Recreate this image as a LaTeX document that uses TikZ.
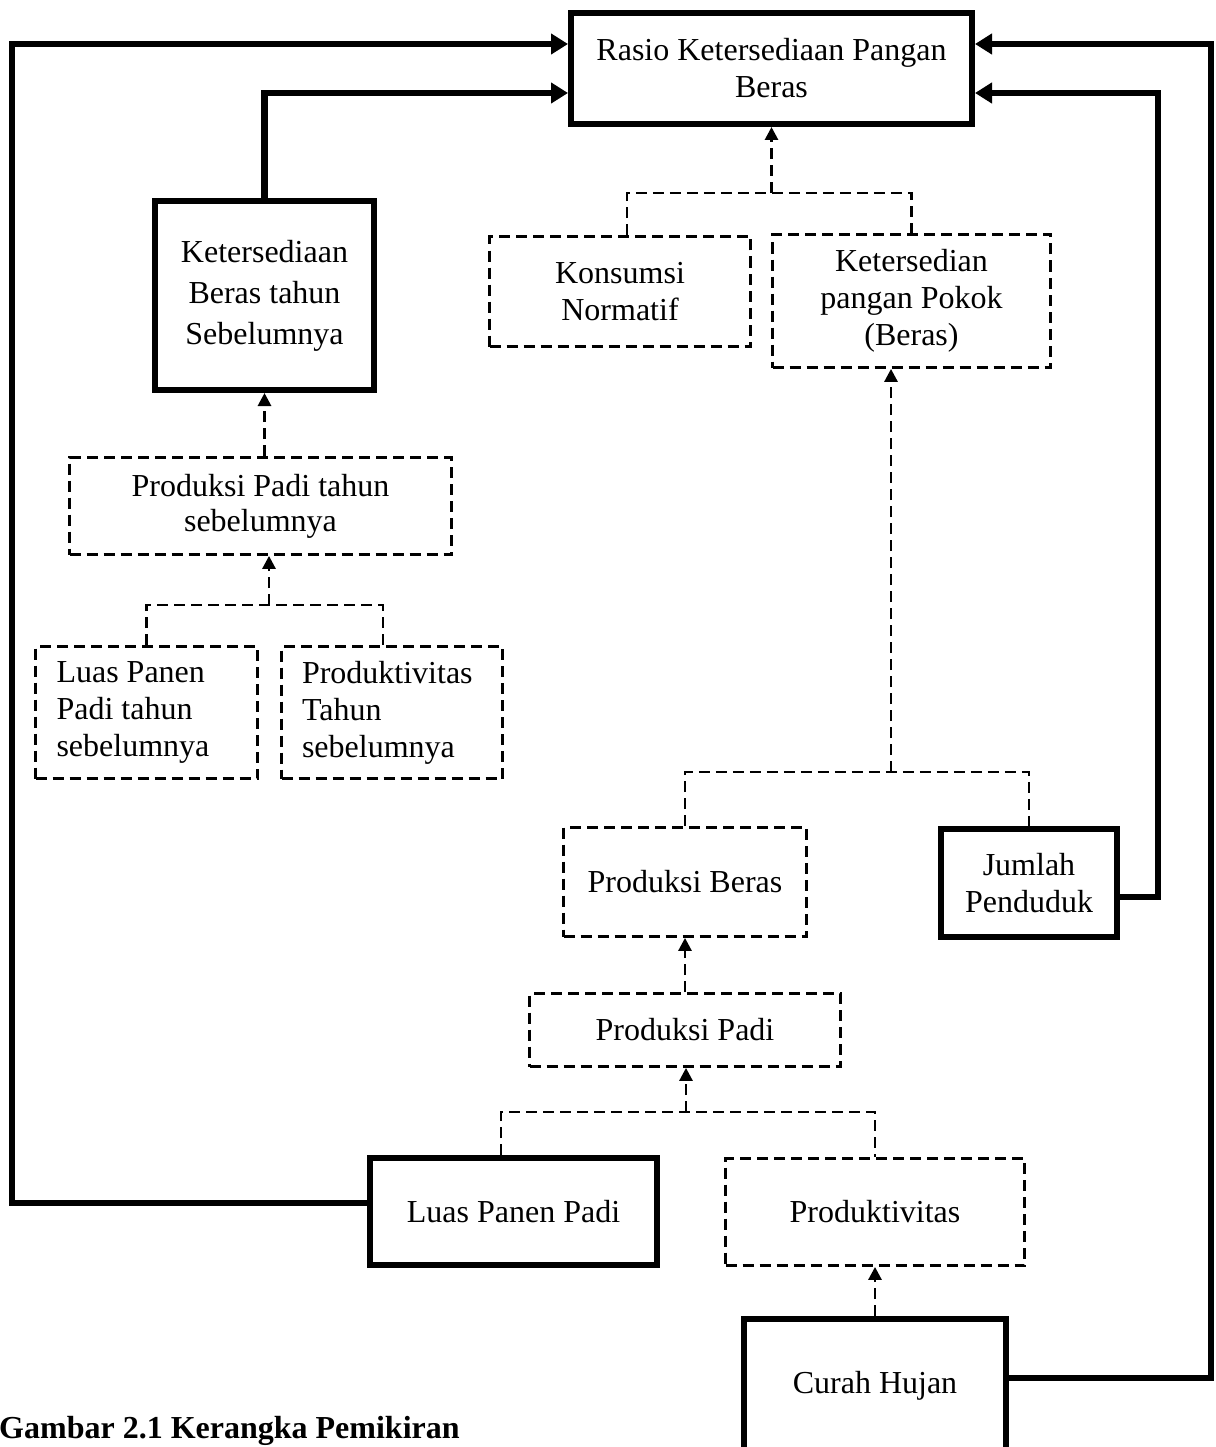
\documentclass[tikz,border=0pt]{standalone}
\usepackage{fontspec}
\setmainfont{Liberation Serif}
\usetikzlibrary{arrows.meta}
\begin{document}
\begin{tikzpicture}[x=1pt,y=-1pt,
  every node/.style={font=\fontsize{32}{37}\selectfont, align=center, inner sep=0pt},
  sbox/.style={draw, line width=6pt},
  dbox/.style={draw, line width=2.8pt, dash pattern=on 11pt off 6pt},
  conn/.style={line width=6.5pt, -{Triangle[length=17pt,width=20pt]}},
  dconn/.style={line width=2.8pt, dash pattern=on 11pt off 6pt},
  darr/.style={dconn, -{Triangle[length=13pt,width=13pt]}}
]
\useasboundingbox (0,0) rectangle (1215,1447);
\clip (0,0) rectangle (1215,1447);

% nodes
\node[sbox, minimum width=401pt, minimum height=111pt] (rasio) at (771.5,68.5) {Rasio Ketersediaan Pangan\\Beras};
\node[sbox, minimum width=219pt, minimum height=189pt, font=\fontsize{32}{41}\selectfont] (keb) at (264.5,295.5) {Ketersediaan\\Beras tahun\\Sebelumnya};
\node[dbox, minimum width=261pt, minimum height=110pt] (kons) at (620,291.5) {Konsumsi\\Normatif};
\node[dbox, minimum width=278pt, minimum height=133pt] (ketp) at (911.5,301) {Ketersedian\\pangan Pokok\\(Beras)};
\node[dbox, minimum width=382pt, minimum height=97pt, font=\fontsize{32}{35}\selectfont] (ppt) at (260.5,506) {Produksi Padi tahun\\sebelumnya};
\node[dbox, minimum width=222pt, minimum height=132pt, align=flush left, text width=180pt, inner xsep=21pt] (lpt) at (146.5,712.5) {Luas Panen\\Padi tahun\\sebelumnya};
\node[dbox, minimum width=221pt, minimum height=132pt, align=flush left, text width=180pt, inner xsep=20.5pt] (prt) at (392,712.5) {Produktivitas\\Tahun\\sebelumnya};
\node[dbox, minimum width=243pt, minimum height=109pt] (pb) at (685,882) {Produksi Beras};
\node[sbox, minimum width=176pt, minimum height=108pt] (jp) at (1029,883) {Jumlah\\Penduduk};
\node[dbox, minimum width=311pt, minimum height=73pt] (pp) at (685,1030) {Produksi Padi};
\node[sbox, minimum width=287pt, minimum height=107pt] (lpp) at (513.5,1211.5) {Luas Panen Padi};
\node[dbox, minimum width=299pt, minimum height=107pt] (prod) at (875,1212) {Produktivitas};
\node[sbox, minimum width=262pt, minimum height=134pt] (ch) at (875,1386) {Curah Hujan};
\node[anchor=base west, font=\fontsize{32}{37}\selectfont\bfseries] (cap) at (-1,1438) {Gambar 2.1 Kerangka Pemikiran};

% thick connectors
\coordinate (a1) at (12,1203);
\coordinate (a2) at (12,44);
\draw[conn] (lpp.west |- a1) -- (a1) -- (a2) -- (rasio.west |- a2);
\coordinate (b1) at (263,93);
\draw[conn] (keb.north) -- (keb.north |- b1) -- (rasio.west |- b1);
\coordinate (c1) at (1211,1378);
\coordinate (c2) at (1211,44);
\draw[conn] (ch.east |- c1) -- (c1) -- (c2) -- (rasio.east |- c2);
\coordinate (d1) at (1158,897);
\coordinate (d2) at (1158,93);
\draw[conn] (jp.east |- d1) -- (d1) -- (d2) -- (rasio.east |- d2);

% dashed tree connectors
\coordinate (j1) at (771,193);
\draw[dconn] ([xshift=7pt]kons.north) |- (ketp.north |- j1) -- (ketp.north);
\draw[darr] (rasio.south |- j1) -- (rasio.south);

\draw[darr] (ppt.north -| keb.south) -- (keb.south);

\coordinate (j2) at (269,605);
\draw[dconn] (lpt.north) |- ([xshift=-9pt]prt.north |- j2) -- ([xshift=-9pt]prt.north);
\draw[darr] (j2) -- (j2 |- ppt.south);

\coordinate (j3) at (891,772);
\draw[dconn] (pb.north) |- (jp.north |- j3) -- (jp.north);
\draw[darr] (j3) -- (j3 |- ketp.south);

\draw[darr] (pp.north) -- (pb.south);

\coordinate (j4) at (686,1112);
\draw[dconn] ([xshift=-12.5pt]lpp.north) |- (prod.north |- j4) -- (prod.north);
\draw[darr] (j4) -- (j4 |- pp.south);

\draw[darr] (ch.north) -- (prod.south);
\end{tikzpicture}
\end{document}
